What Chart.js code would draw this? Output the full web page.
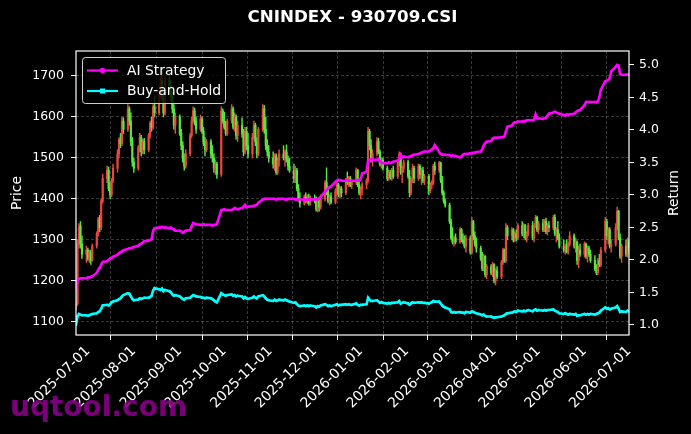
<!DOCTYPE html>
<html><head><meta charset="utf-8">
<script src="https://cdn.jsdelivr.net/npm/chart.js@4.4.1/dist/chart.umd.min.js"></script>
<style>html,body{margin:0;padding:0;background:#000;}canvas{display:block;}</style>
</head><body>
<canvas id="c" width="691" height="434" style="width:691px;height:434px"></canvas>
<script>
const chartTitle = 'CNINDEX - 930709.CSI';
const firstTradingDay = '2025-06-23';
const xRange = ['2025-06-23', '2026-07-01'];
const tickLabels = ['2025-07-01','2025-08-01','2025-09-01','2025-10-01','2025-11-01','2025-12-01','2026-01-01','2026-02-01','2026-03-01','2026-04-01','2026-05-01','2026-06-01','2026-07-01'];
const priceTicks = [1100,1200,1300,1400,1500,1600,1700];
const returnTicks = [1.0,1.5,2.0,2.5,3.0,3.5,4.0,4.5,5.0];
const seriesNames = ['AI Strategy','Buy-and-Hold'];

const opens = [
1140,1145,1290,1335,1290, 1265,1275,1255,1270,1250, 1285,1315,1350,1330,1395, 1450,1470,1425,1410,1445,
1475,1510,1545,1535,1590, 1570,1620,1590,1540,1490, 1475,1525,1550,1515,1540, 1520,1555,1585,1575,1625,
1610,1655,1690,1650,1610, 1690,1670,1650,1620,1580, 1600,1560,1530,1500,1480, 1510,1555,1590,1615,1590,
1570,1595,1565,1540,1520, 1540,1510,1500,1475,1485, 1460,1615,1590,1575,1560, 1590,1620,1575,1600,1555,
1580,1560,1515,1565,1530, 1510,1550,1580,1540,1510, 1570,1620,1570,1530,1515, 1500,1485,1505,1465,1495,
1510,1500,1515,1495,1480, 1470,1450,1470,1425,1400, 1390,1405,1395,1400,1390, 1402,1395,1375,1395,1380,
1400,1440,1420,1395,1405, 1392,1420,1435,1410,1425, 1415,1445,1440,1450,1435, 1440,1470,1435,1415,1425,
1435,1445,1565,1530,1500, 1510,1540,1515,1485,1495, 1475,1450,1465,1452,1470, 1455,1485,1510,1465,1475,
1490,1455,1415,1445,1475, 1450,1480,1460,1470,1445, 1455,1420,1435,1440,1480, 1470,1488,1445,1415,1395,
1385,1345,1305,1295,1305, 1295,1325,1300,1295,1285, 1305,1270,1345,1310,1290, 1280,1255,1230,1260,1215,
1235,1220,1240,1200,1225, 1210,1245,1275,1250,1330, 1310,1325,1300,1315,1305, 1335,1315,1335,1305,1315,
1335,1305,1335,1355,1325, 1340,1325,1345,1320,1335, 1330,1355,1315,1325,1305, 1285,1275,1285,1272,1290,
1310,1285,1295,1250,1275, 1265,1290,1260,1280,1265, 1250,1230,1220,1250,1240, 1275,1345,1310,1325,1285,
1290,1330,1370,1305,1260, 1285,1265,1295];
const highs = [
1150,1300,1340,1345,1310, 1285,1280,1275,1275,1290, 1320,1355,1360,1400,1460, 1480,1478,1440,1450,1485,
1520,1550,1560,1600,1598, 1630,1625,1610,1550,1500, 1530,1560,1555,1545,1548, 1560,1590,1600,1630,1650,
1660,1700,1720,1665,1700, 1710,1690,1660,1630,1610, 1605,1570,1540,1510,1520, 1560,1600,1625,1622,1600,
1605,1600,1575,1550,1545, 1545,1530,1510,1495,1490, 1625,1620,1612,1590,1595, 1630,1625,1610,1605,1590,
1598,1570,1575,1575,1560, 1560,1590,1585,1550,1575, 1630,1628,1600,1545,1530, 1515,1510,1510,1500,1520,
1530,1520,1532,1505,1500, 1485,1480,1475,1435,1415, 1410,1415,1410,1412,1408, 1410,1405,1400,1400,1410,
1445,1476,1430,1410,1415, 1425,1441,1438,1430,1430, 1450,1466,1455,1455,1445, 1476,1472,1445,1430,1440,
1450,1575,1570,1545,1520, 1550,1548,1520,1500,1500, 1480,1470,1470,1475,1480, 1490,1515,1512,1480,1495,
1495,1470,1450,1485,1480, 1485,1484,1475,1478,1460, 1460,1440,1445,1485,1490, 1492,1490,1455,1420,1400,
1390,1350,1330,1310,1315, 1330,1328,1315,1310,1312, 1310,1355,1348,1320,1305, 1285,1270,1265,1262,1240,
1240,1245,1242,1230,1235, 1250,1280,1278,1340,1335, 1330,1328,1320,1325,1340, 1345,1340,1338,1320,1340,
1345,1340,1360,1358,1345, 1350,1350,1353,1340,1345, 1360,1362,1330,1345,1315, 1300,1290,1300,1295,1320,
1315,1305,1298,1285,1290, 1295,1292,1285,1285,1275, 1262,1240,1255,1265,1282, 1355,1350,1330,1330,1300,
1340,1380,1372,1315,1290, 1300,1305,1300];
const lows = [
1130,1140,1280,1280,1255, 1245,1250,1245,1240,1248, 1280,1310,1320,1325,1390, 1440,1420,1400,1405,1440,
1465,1500,1525,1530,1560, 1565,1580,1530,1480,1465, 1470,1515,1505,1510,1510, 1515,1548,1565,1570,1600,
1605,1645,1640,1600,1605, 1660,1640,1610,1570,1560, 1555,1520,1490,1470,1475, 1505,1550,1585,1580,1560,
1565,1560,1530,1505,1515, 1500,1490,1465,1460,1450, 1455,1585,1570,1555,1555, 1585,1570,1565,1545,1540,
1550,1505,1510,1520,1500, 1500,1545,1530,1500,1505, 1565,1560,1520,1505,1490, 1475,1470,1460,1460,1480,
1495,1480,1490,1470,1465, 1440,1440,1420,1395,1380, 1385,1390,1388,1385,1385, 1390,1370,1368,1370,1375,
1395,1410,1390,1385,1388, 1388,1410,1405,1402,1405, 1410,1435,1430,1430,1425, 1435,1430,1410,1400,1410,
1425,1440,1520,1490,1480, 1505,1510,1480,1475,1470, 1445,1445,1448,1445,1450, 1450,1480,1460,1440,1465,
1450,1405,1410,1440,1440, 1445,1450,1435,1440,1435, 1410,1415,1425,1435,1460, 1465,1440,1410,1390,1380,
1340,1300,1290,1285,1290, 1292,1295,1290,1280,1270, 1265,1265,1300,1285,1270, 1250,1225,1225,1210,1205,
1215,1210,1195,1190,1205, 1205,1240,1245,1245,1300, 1300,1295,1295,1298,1300, 1310,1305,1300,1295,1310,
1300,1295,1330,1320,1315, 1320,1320,1315,1312,1320, 1325,1310,1295,1300,1280, 1270,1265,1268,1265,1285,
1280,1270,1240,1232,1260, 1258,1255,1246,1260,1245, 1225,1215,1215,1235,1235, 1270,1300,1290,1280,1270,
1285,1325,1300,1255,1245, 1260,1258,1270];
const closes = [
1145,1290,1330,1290,1265, 1275,1255,1270,1250,1285, 1315,1350,1330,1395,1450, 1470,1425,1410,1445,1475,
1510,1545,1535,1590,1570, 1620,1590,1540,1490,1475, 1525,1550,1515,1540,1520, 1555,1585,1575,1625,1610,
1655,1690,1650,1610,1690, 1670,1650,1620,1580,1600, 1560,1530,1500,1480,1510, 1555,1590,1615,1590,1570,
1595,1565,1540,1520,1540, 1510,1500,1475,1485,1460, 1615,1590,1575,1560,1590, 1620,1575,1600,1555,1580,
1560,1515,1565,1530,1510, 1550,1580,1540,1510,1570, 1620,1570,1530,1515,1500, 1485,1505,1465,1495,1510,
1500,1515,1495,1480,1470, 1450,1470,1425,1400,1390, 1405,1395,1400,1390,1402, 1395,1375,1395,1380,1400,
1440,1420,1395,1405,1392, 1420,1435,1410,1425,1415, 1445,1440,1450,1435,1440, 1470,1435,1415,1425,1435,
1445,1565,1530,1500,1510, 1540,1515,1485,1495,1475, 1450,1465,1452,1470,1455, 1485,1510,1465,1475,1490,
1455,1415,1445,1475,1450, 1480,1460,1470,1445,1455, 1420,1435,1440,1480,1470, 1488,1445,1415,1395,1385,
1345,1305,1295,1305,1295, 1325,1300,1295,1285,1305, 1270,1345,1310,1290,1280, 1255,1230,1260,1215,1235,
1220,1240,1200,1225,1210, 1245,1275,1250,1330,1310, 1325,1300,1315,1305,1335, 1315,1335,1305,1315,1335,
1305,1335,1355,1325,1340, 1325,1345,1320,1335,1330, 1355,1315,1325,1305,1285, 1275,1285,1272,1290,1310,
1285,1295,1250,1275,1265, 1290,1260,1280,1265,1250, 1230,1220,1250,1240,1275, 1345,1310,1325,1285,1290,
1330,1370,1305,1260,1285, 1265,1295,1280];
const aiStrategy = [
1.55,1.69,1.71,1.72,1.72, 1.72,1.73,1.73,1.74,1.75, 1.80,1.85,1.88,1.93,1.97, 1.98,2.00,2.02,2.03,2.05,
2.08,2.10,2.12,2.13,2.15, 2.17,2.18,2.18,2.19,2.20, 2.22,2.24,2.25,2.27,2.29, 2.30,2.31,2.32,2.45,2.49,
2.50,2.50,2.51,2.50,2.50, 2.49,2.50,2.48,2.47,2.45, 2.45,2.44,2.42,2.43,2.45, 2.46,2.52,2.57,2.56,2.55,
2.54,2.54,2.55,2.54,2.54, 2.54,2.53,2.54,2.54,2.55, 2.77,2.77,2.78,2.77,2.77, 2.77,2.78,2.80,2.79,2.78,
2.80,2.82,2.85,2.81,2.82, 2.83,2.83,2.84,2.85,2.88, 2.93,2.94,2.94,2.94,2.94, 2.94,2.94,2.93,2.94,2.94,
2.94,2.93,2.93,2.94,2.94, 2.94,2.93,2.93,2.92,2.93, 2.93,2.92,2.93,2.93,2.93, 2.93,2.93,2.94,2.95,2.97,
3.05,3.07,3.10,3.12,3.13, 3.20,3.22,3.23,3.23,3.22, 3.22,3.23,3.22,3.22,3.22, 3.22,3.23,3.22,3.25,3.33,
3.36,3.52,3.54,3.55,3.54, 3.54,3.55,3.52,3.50,3.49, 3.49,3.50,3.49,3.50,3.51, 3.53,3.55,3.62,3.58,3.59,
3.58,3.59,3.60,3.61,3.62, 3.63,3.64,3.65,3.66,3.67, 3.67,3.68,3.70,3.72,3.77, 3.66,3.63,3.62,3.62,3.62,
3.61,3.60,3.61,3.60,3.60, 3.58,3.59,3.62,3.63,3.63, 3.64,3.64,3.65,3.65,3.66, 3.67,3.70,3.76,3.80,3.82,
3.83,3.87,3.88,3.88,3.88, 3.89,3.89,3.90,3.98,4.05, 4.07,4.10,4.12,4.12,4.13, 4.13,4.14,4.13,4.15,4.15,
4.15,4.16,4.24,4.18,4.18, 4.17,4.18,4.19,4.22,4.25, 4.27,4.28,4.27,4.26,4.25, 4.23,4.22,4.24,4.23,4.24,
4.25,4.27,4.29,4.30,4.31, 4.38,4.43,4.43,4.43,4.43, 4.43,4.43,4.44,4.50,4.62, 4.75,4.76,4.77,4.80,4.90,
4.97,5.00,4.99,4.86,4.85, 4.85,4.85,4.85];
const buyAndHold = [
1.00,1.13,1.17,1.16,1.15, 1.15,1.14,1.15,1.16,1.17, 1.18,1.20,1.21,1.25,1.30, 1.31,1.30,1.32,1.35,1.36,
1.38,1.40,1.41,1.44,1.46, 1.49,1.48,1.44,1.40,1.38, 1.39,1.41,1.40,1.41,1.42, 1.42,1.43,1.45,1.53,1.57,
1.55,1.54,1.56,1.52,1.54, 1.52,1.50,1.47,1.45,1.46, 1.44,1.42,1.40,1.39,1.41, 1.42,1.44,1.46,1.45,1.44,
1.43,1.42,1.42,1.41,1.42, 1.41,1.40,1.38,1.36,1.35, 1.49,1.47,1.46,1.45,1.46, 1.47,1.45,1.46,1.44,1.45,
1.44,1.41,1.43,1.41,1.40, 1.42,1.44,1.42,1.41,1.44, 1.46,1.44,1.41,1.39,1.38, 1.37,1.39,1.37,1.38,1.39,
1.38,1.39,1.38,1.37,1.36, 1.34,1.35,1.32,1.30,1.29, 1.30,1.29,1.30,1.29,1.30, 1.29,1.27,1.29,1.28,1.30,
1.32,1.31,1.29,1.30,1.29, 1.31,1.32,1.30,1.31,1.31, 1.32,1.31,1.32,1.31,1.31, 1.33,1.31,1.30,1.31,1.31,
1.32,1.42,1.39,1.37,1.37, 1.38,1.36,1.34,1.35,1.34, 1.33,1.34,1.33,1.34,1.34, 1.35,1.37,1.33,1.34,1.35,
1.33,1.31,1.33,1.35,1.34, 1.35,1.34,1.35,1.34,1.34, 1.33,1.34,1.35,1.37,1.36, 1.36,1.33,1.30,1.28,1.27,
1.24,1.20,1.19,1.20,1.19, 1.20,1.19,1.19,1.18,1.20, 1.19,1.21,1.20,1.19,1.18, 1.16,1.15,1.16,1.14,1.13,
1.13,1.12,1.11,1.12,1.12, 1.13,1.14,1.15,1.17,1.18, 1.19,1.20,1.21,1.20,1.22, 1.21,1.22,1.21,1.22,1.23,
1.21,1.23,1.24,1.22,1.23, 1.22,1.23,1.22,1.23,1.23, 1.24,1.22,1.21,1.20,1.18, 1.17,1.18,1.17,1.16,1.17,
1.16,1.17,1.14,1.15,1.15, 1.17,1.16,1.17,1.16,1.17, 1.16,1.17,1.18,1.19,1.22, 1.27,1.25,1.26,1.24,1.25,
1.27,1.29,1.25,1.20,1.21, 1.20,1.22,1.21];

const UP = '#e8483f', DOWN = '#55e83f', MAG = '#ff00ff', CYA = '#00ffff';
const FONT = 'DejaVu Sans';

function dayNum(s){ const p = s.split('-').map(Number); return Date.UTC(p[0], p[1]-1, p[2]) / 86400000; }
// trading calendar: consecutive weekdays starting at firstTradingDay
function tradingDays(start, n){
  const out = []; let d = dayNum(start);
  while (out.length < n){ const wd = new Date(d*86400000).getUTCDay(); if (wd !== 0 && wd !== 6) out.push(d); d++; }
  return out;
}
const days = tradingDays(firstTradingDay, closes.length);
const tickDays = tickLabels.map(dayNum);
const candleColors = closes.map((c,i) => c >= opens[i] ? UP : DOWN);

const deco = {
  id: 'deco',
  beforeDraw(chart){ const c = chart.ctx; c.save(); c.fillStyle = '#000'; c.fillRect(0,0,chart.width,chart.height); c.restore(); },
  afterDatasetsDraw(chart){
    const c = chart.ctx, a = chart.chartArea;
    c.save();
    c.strokeStyle = '#fff'; c.lineWidth = 1.2;
    c.strokeRect(a.left, a.top, a.right - a.left, a.bottom - a.top);
    const lx = 82.5, ly = 57.5, lw = 143, lh = 46, r = 3;
    c.beginPath();
    c.moveTo(lx+r, ly); c.lineTo(lx+lw-r, ly); c.arcTo(lx+lw, ly, lx+lw, ly+r, r);
    c.lineTo(lx+lw, ly+lh-r); c.arcTo(lx+lw, ly+lh, lx+lw-r, ly+lh, r);
    c.lineTo(lx+r, ly+lh); c.arcTo(lx, ly+lh, lx, ly+lh-r, r);
    c.lineTo(lx, ly+r); c.arcTo(lx, ly, lx+r, ly, r); c.closePath();
    c.fillStyle = 'rgba(0,0,0,0.8)'; c.fill();
    c.strokeStyle = '#d0d0d0'; c.lineWidth = 1; c.stroke();
    const rows = [{y:70.5, col:MAG, name:seriesNames[0], sq:false},{y:91, col:CYA, name:seriesNames[1], sq:true}];
    rows.forEach(o => {
      c.strokeStyle = o.col; c.lineWidth = 2.2; c.beginPath(); c.moveTo(87, o.y); c.lineTo(118, o.y); c.stroke();
      c.fillStyle = o.col;
      if (o.sq) c.fillRect(100, o.y-2.5, 5, 5); else { c.beginPath(); c.arc(102.5, o.y, 2.8, 0, Math.PI*2); c.fill(); }
      c.fillStyle = '#fff'; c.font = '13.9px "' + FONT + '"'; c.textAlign = 'left'; c.textBaseline = 'middle';
      c.fillText(o.name, 127, o.y + 0.5);
    });
    c.restore();
  },
  afterDraw(chart){
    const c = chart.ctx, a = chart.chartArea;
    c.save();
    c.fillStyle = '#fff'; c.textAlign = 'center'; c.textBaseline = 'middle';
    c.font = 'bold 16.7px "' + FONT + '"';
    c.fillText(chartTitle, (a.left + a.right)/2, 18);
    c.font = '13.9px "' + FONT + '"';
    const cy = (a.top + a.bottom)/2;
    c.save(); c.translate(17, cy); c.rotate(-Math.PI/2); c.fillText('Price', 0, 0); c.restore();
    c.save(); c.translate(674, cy); c.rotate(-Math.PI/2); c.fillText('Return', 0, 0); c.restore();
    c.font = 'bold 28px "' + FONT + '"'; c.textAlign = 'left'; c.textBaseline = 'alphabetic';
    c.fillStyle = 'rgba(135,0,135,0.9)';
    c.fillText('uqtool.com', 10, 416);
    c.restore();
  }
};

const tickFont = {family: FONT, size: 12.5};
new Chart(document.getElementById('c'), {
  type: 'bar',
  data: { datasets: [
    { type:'line', label: seriesNames[0], yAxisID:'y1', order:0,
      data: days.map((d,i)=>({x:d, y:aiStrategy[i]})),
      borderColor: MAG, backgroundColor: MAG, borderWidth: 2.6, pointRadius: 1.2, pointBorderWidth: 0, tension: 0 },
    { type:'line', label: seriesNames[1], yAxisID:'y1', order:1,
      data: days.map((d,i)=>({x:d, y:buyAndHold[i]})),
      borderColor: CYA, backgroundColor: CYA, borderWidth: 2.6, pointRadius: 1.2, pointBorderWidth: 0, tension: 0 },
    { type:'bar', label:'body', yAxisID:'y', order:2, grouped:false,
      data: days.map((d,i)=>({x:d, y:[opens[i], closes[i]]})),
      backgroundColor: candleColors, barThickness: 1.5, borderWidth: 0 },
    { type:'bar', label:'wick', yAxisID:'y', order:3, grouped:false,
      data: days.map((d,i)=>({x:d, y:[lows[i], highs[i]]})),
      backgroundColor: candleColors, barThickness: 0.8, borderWidth: 0 }
  ]},
  options: {
    responsive:false, animation:false, devicePixelRatio:1,
    layout:{padding:{top:51, left:0, right:0, bottom:0}},
    plugins:{legend:{display:false}, tooltip:{enabled:false}, title:{display:false}},
    scales:{
      x:{ type:'linear', position:'bottom', offset:false,
        min: dayNum(xRange[0]), max: dayNum(xRange[1]),
        afterFit: s => { s.height = 99; },
        afterBuildTicks: s => { s.ticks = tickDays.map(v => ({value:v})); },
        ticks:{ autoSkip:false, minRotation:45, maxRotation:45, color:'#fff', font:{family:FONT, size:13.9}, padding:3,
          callback:(v,i) => tickLabels[i] },
        grid:{ color:'rgba(255,255,255,0.28)', lineWidth:0.8, tickColor:'#fff', tickLength:5, tickWidth:1, tickBorderDash:[] },
        border:{ display:false, dash:[3,2] } },
      y:{ type:'linear', position:'left', min:1068, max:1761,
        afterFit: s => { s.width = 76; },
        afterBuildTicks: s => { s.ticks = priceTicks.map(v => ({value:v})); },
        ticks:{ color:'#fff', font:tickFont, padding:7, callback: v => String(v) },
        grid:{ color:'rgba(255,255,255,0.28)', lineWidth:0.8, tickColor:'#fff', tickLength:5, tickWidth:1, tickBorderDash:[] },
        border:{ display:false, dash:[3,2] } },
      y1:{ type:'linear', position:'right', min:0.846, max:5.215,
        afterFit: s => { s.width = 62; },
        afterBuildTicks: s => { s.ticks = returnTicks.map(v => ({value:v})); },
        ticks:{ color:'#fff', font:tickFont, padding:5, callback: v => Number(v).toFixed(1) },
        grid:{ drawOnChartArea:false, tickColor:'#fff', tickLength:5, tickWidth:1, tickBorderDash:[] },
        border:{ display:false } }
    }
  },
  plugins:[deco]
});
</script>
</body></html>
